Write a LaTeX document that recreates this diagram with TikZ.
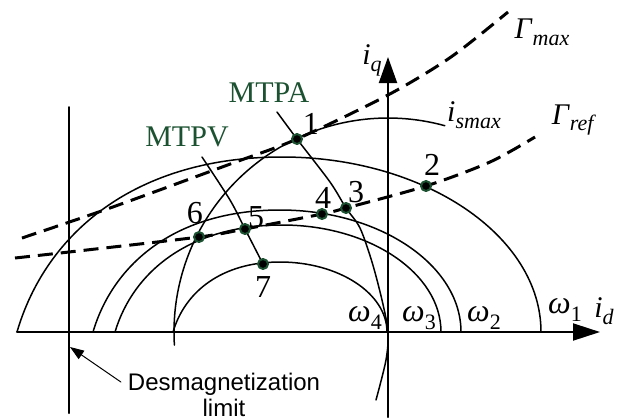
\documentclass[tikz,border=0pt]{standalone}
\usepackage{fontspec}
\setmainfont{Liberation Serif}
\newfontfamily\arialfont{Liberation Sans}
\usetikzlibrary{arrows.meta}
\definecolor{mtgreen}{RGB}{28,82,50}
\newcommand{\lowsub}[1]{\raisebox{-0.5ex}{\fontsize{11}{11}\selectfont #1}}
\begin{document}
\begin{tikzpicture}[x=0.5pt, y=0.5pt, line join=round, line cap=round,
	curve/.style={line width=0.75pt},
	gammaline/.style={line width=1.5pt, dash pattern=on 7.5pt off 4pt, line cap=butt},
	opdot/.style={circle, fill=black, draw=mtgreen, line width=1pt, inner sep=0pt, minimum size=5pt},
	num/.style={font=\fontsize{16}{16}\selectfont},
	grn/.style={font=\fontsize{15}{15}\selectfont, text=mtgreen, inner sep=1pt},
	sym/.style={font=\fontsize{15}{15}\selectfont}]
	\useasboundingbox (-388,-87) rectangle (248,332);
	% axes and demagnetization limit
	\draw[line width=1pt, -{Triangle[length=13.5pt,width=8.5pt]}] (-371,0) -- (212,0);
	\draw[line width=1pt, -{Triangle[length=13pt,width=9pt]}] (0,-85) -- (0,275);
	\draw[line width=1pt] (-319,-81) -- (-319,225);
	% voltage ellipses w1..w4
	\foreach \L/\T/\h/\R in {-371/-106/175/153, -295/-108/122/73, -273/-106/107/53, -215/-108/70/-1}
	\draw[curve] (\L,0) .. controls ({\L+0.11*(\T-\L)},{0.57*\h}) and ({\T-0.55*(\T-\L)},\h) .. (\T,\h)
	.. controls ({\T+0.55*(\R-\T)},\h) and (\R,{0.55*\h}) .. (\R,0);
	% current limit circle
	\draw[curve] (183.5:214) arc[start angle=183.5, end angle=74.6, radius=214];
	% MTPA and MTPV
	\draw[curve] plot[smooth] coordinates {(-111,220) (-91,193) (-58,150) (-42,124) (-28,104) (-16,70) (-6,32) (0,0) (-2,-28) (-12,-68)};
	\draw[curve] plot[smooth] coordinates {(-186,175) (-158,132) (-143,103) (-125,68)};
	% torque curves
	\draw[gammaline] plot[smooth] coordinates {(-366,94) (-278,124) (-155,169) (-91,193) (0,237) (63,275) (120,320)};
	\draw[gammaline] plot[smooth] coordinates {(-373,74) (-319,80) (-189,95) (-143,103) (-66,118) (-42,124) (38,146) (102,170) (147,195)};
	% operating points
	\foreach \n/\x/\y in {1/-91/193, 2/38/146, 3/-42/124, 4/-66/118, 5/-143/103, 6/-189/95, 7/-125/68}
	\node[opdot] (p\n) at (\x,\y) {};
	\foreach \n/\x/\y in {1/-77/208, 2/44/167, 3/-32/140, 4/-65/134, 5/-132/115, 6/-193/119, 7/-125/45}
	\node[num, inner sep=1pt] (l\n) at (\x,\y) {\n};
	\node[grn] (mtpa) at (-119,239) {MTPA};
	\node[grn] (mtpv) at (-201,195) {MTPV};
	% axis and curve labels
	\node[sym] (iq) at (-16,272) {\textit{i}\lowsub{\textit{q}}};
	\node[sym] (id) at (216,21) {\textit{i}\lowsub{\textit{d}}};
	\node[sym] (gmax) at (154,300) {\textit{Γ}\lowsub{\textit{max}}};
	\node[sym] (gref) at (186,212) {\textit{Γ}\lowsub{\textit{ref}}};
	\node[sym] (ismax) at (86,217) {\textit{i}\lowsub{\textit{smax}}};
	\foreach \n/\x/\y in {1/177/22, 2/96/14, 3/31/14, 4/-23/14}
	\node[num] (w\n) at (\x,\y) {\textit{ω}\lowsub{\n}};
	% demagnetization limit
	\node[font=\arialfont\fontsize{12}{13}\selectfont, align=center] (demag) at (-164,-63) {Desmagnetization\\limit};
	\coordinate (dtip) at (-318,-15);
	\draw[line width=0.5pt, -{Triangle[length=7pt,width=5pt]}] ([yshift=6.5pt]demag.west) -- (dtip);
\end{tikzpicture}
\end{document}
